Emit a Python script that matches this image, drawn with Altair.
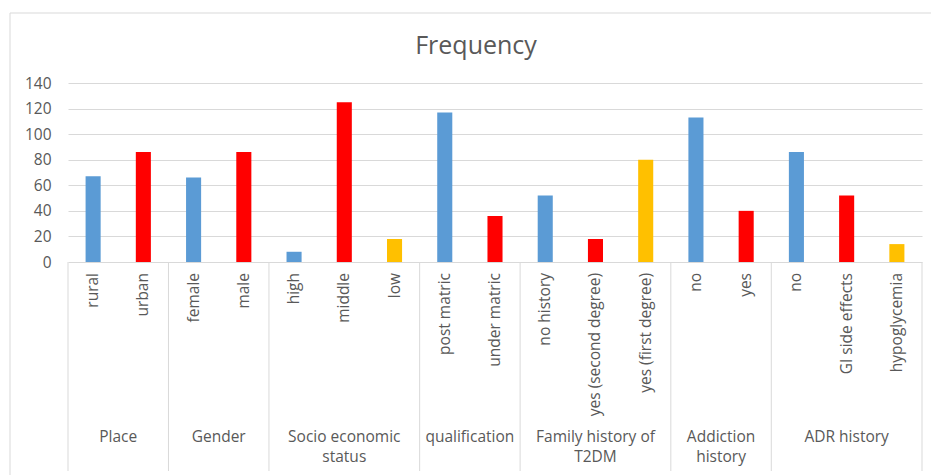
import altair as alt
import pandas as pd

groups = ["Place", "Gender", "Socio economic\nstatus", "qualification",
          "Family history of\nT2DM", "Addiction\nhistory", "ADR history"]
group_sizes = [2, 2, 3, 2, 3, 2, 3]
leaf_labels = ["rural", "urban", "female", "male", "high", "middle", "low",
               "post matric", "under matric", "no history", "yes (second degree)",
               "yes (first degree)", "no", "yes", "no", "GI side effects", "hypoglycemia"]
values = [67, 86, 66, 86, 8, 125, 18, 117, 36, 52, 18, 80, 113, 40, 86, 52, 14]
palette = ["#5B9BD5", "#FF0000", "#FFC000"]

rows = []
bounds = [0]
gdata = []
i = 0
for g, n in zip(groups, group_sizes):
    start = i
    for j in range(n):
        rows.append({"key": f"{i:02d}", "label": leaf_labels[i], "value": values[i],
                     "color": palette[j]})
        i += 1
    bounds.append(i)
    gdata.append({"group": g, "mid": (start + i) / 2})

df = pd.DataFrame(rows)
gdf = pd.DataFrame(gdata)
bdf = pd.DataFrame({"b": bounds})

W, H = 854, 179
FONT = "Open Sans"
FS = 15.5
GRAY = "#595959"
LINE = "#d9d9d9"

xband = alt.X("key:N", sort=None, axis=None,
              scale=alt.Scale(paddingInner=0.7, paddingOuter=0.35))

bars = alt.Chart(df).mark_bar().encode(
    x=xband,
    y=alt.Y("value:Q", scale=alt.Scale(domain=[0, 140]),
            axis=alt.Axis(values=list(range(0, 141, 20)), title=None, domain=False,
                          ticks=False, grid=True, gridColor=LINE, gridWidth=1,
                          labelColor=GRAY, labelFont=FONT, labelFontSize=FS,
                          labelPadding=17)),
    color=alt.Color("color:N", scale=None),
)

leaf_text = alt.Chart(df).mark_text(angle=270, align="right", baseline="middle",
                                    font=FONT, fontSize=FS, color=GRAY).encode(
    x=xband,
    y=alt.value(H + 11),
    text="label:N",
)

xq = alt.Scale(domain=[0, 17])
seps = alt.Chart(bdf).mark_rule(color=LINE, strokeWidth=1).encode(
    x=alt.X("b:Q", scale=xq, axis=None),
    y=alt.value(0 + H),
    y2=alt.value(H + 209),
)

group_text = alt.Chart(gdf).mark_text(baseline="top", align="center", lineBreak="\n",
                                      lineHeight=20, font=FONT, fontSize=FS,
                                      color=GRAY).encode(
    x=alt.X("mid:Q", scale=xq, axis=None),
    y=alt.value(H + 168),
    text="group:N",
)

border = alt.Chart(pd.DataFrame({"a": [0]})).mark_rect(
    fillOpacity=0, stroke=LINE, strokeWidth=1).encode(
    x=alt.value(-58), x2=alt.value(880), y=alt.value(-70), y2=alt.value(410))

chart = alt.layer(border, bars, leaf_text, seps, group_text).resolve_scale(
    x="independent"
).properties(
    width=W, height=H,
    title=alt.TitleParams("Frequency", font=FONT, fontSize=25, fontWeight="normal",
                          color=GRAY, dx=-19, offset=-46),
    autosize=alt.AutoSizeParams(type="none"),
    padding={"left": 68, "top": 83, "right": 9, "bottom": 213},
).configure_view(stroke=None)

chart.save("out.html", embed_options={"renderer": "svg", "actions": False})
